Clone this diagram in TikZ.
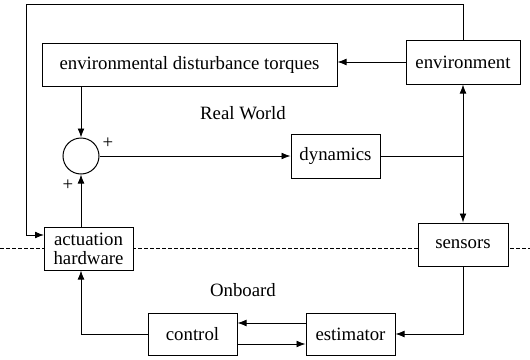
\documentclass[tikz,border=0pt]{standalone}
\usepackage{fontspec}
\setmainfont{Liberation Serif}
\usetikzlibrary{arrows.meta,positioning,calc}

\begin{document}
\begin{tikzpicture}[
    x=0.5pt, y=-0.5pt,
    font=\fontsize{9.4}{11}\selectfont,
    box/.style={draw, line width=0.5pt, minimum height=21.5pt, align=center, fill=white, inner sep=1pt},
    junction/.style={draw, circle, line width=0.5pt, minimum size=18pt, inner sep=0pt, fill=white},
    arrow/.style={-{Latex[length=4.5pt,width=3.4pt]}, line width=0.45pt},
    wire/.style={line width=0.45pt}
]
\useasboundingbox (0,0) rectangle (530,359);

% Boundary between real world and onboard
\draw[line width=0.4pt, dash pattern=on 1.8pt off 1.2pt] (0,248) -- (530,248);

% Real world blocks
\node[box, minimum width=147.5pt] (dist) at (189.5,64.5) {environmental disturbance torques};
\node[box, minimum width=57pt, minimum height=22pt] (env) at (463,62) {environment};
\node[junction] (sum) at (81,156) {};
\node[box, minimum width=44.5pt, minimum height=22pt] (dyn) at (335.5,156) {dynamics};

% Interface blocks
\node[box, minimum width=44.5pt] (act) at (88.5,248.5) {actuation\\[-1.5pt]hardware};
\node[box, minimum width=45pt] (sens) at (463,244.5) {sensors};

% Onboard blocks
\node[box, minimum width=44.5pt, minimum height=21pt] (ctrl) at (192.5,334) {control};
\node[box, minimum width=44.5pt, minimum height=21pt] (est) at (350.5,334) {estimator};

% Labels
\node (real) at (243,113) {Real World};
\node (onboard) at (243,290) {Onboard};
\node (plustop) at (108,143) {+};
\node (plusbot) at (68,185) {+};

% Helper points
\coordinate (jn) at (dyn.east -| env.south);
\coordinate (tl) at (26,4);
\coordinate (actin) at (44,235);

% Arrows
\draw[arrow] (env.west) -- (dist.east |- env.west);
\draw[arrow] (sum |- dist.south) -- (sum.north);
\draw[arrow] (sum |- act.north) -- (sum.south);
\draw[arrow] (sum.east) -- (dyn.west);
\draw[wire] (dyn.east) -- (jn);
\draw[arrow] (jn) -- (env.south);
\draw[arrow] (jn) -- (sens.north);
\draw[arrow] (env.north) |- (tl) |- (actin);
\draw[arrow] (sens.south) |- (est.east);
\draw[arrow] ([yshift=5.5pt]est.west) -- ([yshift=5.5pt]ctrl.east);
\draw[arrow] ([yshift=-5pt]ctrl.east) -- ([yshift=-5pt]est.west);
\draw[arrow] (ctrl.west) -| (sum |- act.south);

\end{tikzpicture}
\end{document}
